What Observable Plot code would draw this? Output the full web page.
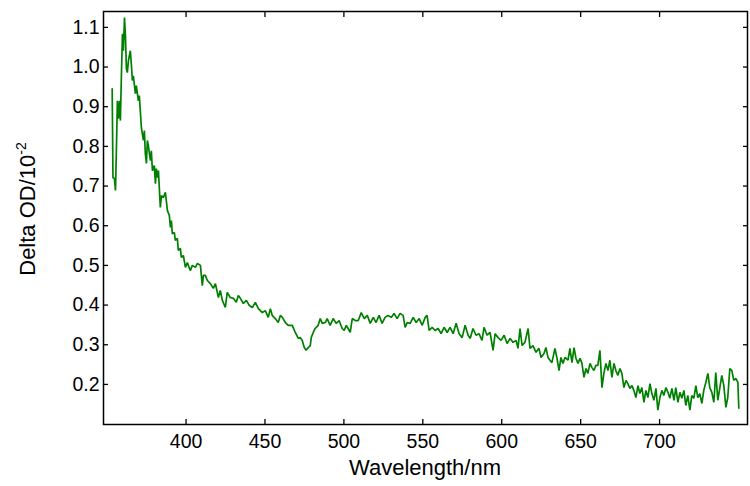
<!DOCTYPE html>
<html>
<head>
<meta charset="utf-8">
<script src="https://cdn.jsdelivr.net/npm/d3@7"></script>
<script src="https://cdn.jsdelivr.net/npm/@observablehq/plot@0.6"></script>
<style>
  html, body { margin: 0; padding: 0; background: #fff; }
  #chart { width: 750px; height: 486px; }
</style>
</head>
<body>
<div id="chart"></div>
<script>
const wavelength = [
353.2,353.7,354.6,355.3,355.9,356.5,357.1,357.8,358.4,359.0,359.7,360.3,361.0,361.6,362.2,362.8,363.5,364.7,365.4,366.0,366.6,367.9,368.5,369.8,370.4,371.7,373.0,373.6,374.2,374.9,375.5,376.1,377.4,378.0,378.7,379.9,380.6,381.2,381.8,382.5,383.7,384.4,385.6,386.9,388.2,389.4,390.1,390.7,391.3,392.6,393.2,394.5,395.1,396.4,397.0,398.3,399.6,400.8,402.7,404.0,405.9,
407.2,409.1,410.3,411.0,412.2,413.5,415.4,417.3,418.6,420.5,421.7,423.0,424.9,426.1,428.0,430.0,431.8,433.1,434.4,436.3,438.2,440.1,442.0,443.9,445.8,448.3,450.2,452.1,453.4,454.6,456.5,458.4,459.7,461.0,462.9,464.7,467.3,469.2,471.1,472.3,473.6,474.9,476.1,477.4,478.7,479.3,480.6,481.8,483.7,485.0,486.3,488.2,489.4,491.3,493.2,495.1,497.0,498.9,500.2,501.5,502.7,504.0,505.3,507.2,
509.1,511.0,512.9,514.8,516.7,518.6,520.4,522.3,524.2,526.1,528.0,530.0,531.8,533.7,535.6,537.5,538.8,540.1,542.0,543.9,545.8,547.7,549.6,551.5,552.7,554.0,555.9,557.8,559.7,561.6,563.5,565.4,567.3,569.2,571.1,573.0,574.9,576.8,578.7,580.0,581.8,583.7,585.6,587.5,588.8,590.7,592.6,594.5,595.8,597.7,599.6,601.5,603.4,605.3,607.2,609.1,610.3,611.6,612.9,614.7,616.7,617.9,619.8,621.7,623.6,624.9,626.8,628.0,629.3,
630.6,631.8,633.7,635.0,636.3,637.5,638.8,640.1,642.0,643.2,644.5,645.8,647.0,648.3,649.6,650.8,652.1,653.4,654.6,655.9,657.1,658.4,659.7,660.9,662.2,663.5,664.7,666.0,667.3,668.5,669.8,671.1,672.3,673.6,674.9,676.1,677.4,678.7,679.9,681.2,682.5,683.7,685.0,686.3,687.5,688.8,690.1,691.3,692.6,693.9,695.1,696.4,697.7,698.9,700.2,701.5,702.7,704.0,705.3,706.5,707.8,709.1,710.3,711.6,712.9,714.1,715.4,716.6,717.9,719.2,720.4,721.7,723.0,724.2,725.5,726.8,728.0,729.3,730.6,731.8,733.1,734.4,735.6,736.9,738.2,739.4,740.7,742.0,743.2,744.5,745.8,747.0,748.3,749.6,750.2
];
const deltaOD = [
0.945,0.721,0.719,0.689,0.797,0.915,0.870,0.915,0.865,0.971,1.084,1.041,1.125,1.079,0.996,0.986,1.016,1.041,1.004,0.966,0.978,0.933,0.953,0.915,0.928,0.847,0.815,0.840,0.782,0.757,0.815,0.802,0.764,0.789,0.739,0.752,0.706,0.744,0.721,0.739,0.646,0.676,0.671,0.684,0.638,0.626,0.596,0.613,0.580,0.583,0.563,0.568,0.538,0.543,0.520,0.525,0.495,0.507,0.487,0.500,0.495,
0.505,0.500,0.449,0.475,0.475,0.462,0.454,0.442,0.454,0.419,0.437,0.412,0.394,0.432,0.419,0.417,0.407,0.424,0.417,0.404,0.412,0.399,0.394,0.407,0.391,0.381,0.386,0.369,0.391,0.374,0.366,0.356,0.374,0.369,0.356,0.349,0.349,0.331,0.316,0.318,0.311,0.293,0.286,0.293,0.298,0.318,0.331,0.341,0.349,0.366,0.354,0.356,0.366,0.349,0.366,0.354,0.361,0.341,0.336,0.349,0.341,0.331,0.366,0.361,
0.361,0.381,0.366,0.374,0.354,0.369,0.356,0.374,0.354,0.369,0.374,0.369,0.379,0.366,0.379,0.374,0.344,0.356,0.354,0.369,0.356,0.366,0.349,0.369,0.374,0.336,0.344,0.336,0.341,0.328,0.344,0.331,0.344,0.328,0.354,0.328,0.318,0.349,0.324,0.316,0.341,0.324,0.328,0.311,0.344,0.324,0.331,0.286,0.328,0.318,0.311,0.324,0.303,0.316,0.306,0.311,0.291,0.341,0.298,0.306,0.341,0.291,0.298,0.281,0.291,0.268,0.278,0.293,0.268,
0.261,0.255,0.291,0.266,0.235,0.268,0.253,0.268,0.261,0.291,0.255,0.293,0.266,0.253,0.266,0.253,0.218,0.240,0.228,0.253,0.243,0.235,0.248,0.248,0.286,0.192,0.228,0.253,0.235,0.261,0.218,0.253,0.235,0.223,0.240,0.228,0.192,0.210,0.202,0.190,0.197,0.185,0.167,0.197,0.177,0.192,0.155,0.185,0.167,0.202,0.177,0.160,0.190,0.135,0.167,0.185,0.172,0.192,0.180,0.165,0.190,0.160,0.192,0.155,0.180,0.165,0.185,0.147,0.172,0.135,0.172,0.165,0.197,0.167,0.177,0.152,0.185,0.205,0.228,0.192,0.180,0.155,0.230,0.160,0.192,0.223,0.197,0.142,0.167,0.240,0.235,0.210,0.215,0.205,0.140
];
const xTicks = [400, 450, 500, 550, 600, 650, 700];
const yTicks = [0.2, 0.3, 0.4, 0.5, 0.6, 0.7, 0.8, 0.9, 1.0, 1.1];
const xLabel = "Wavelength/nm";
const yLabelMain = "Delta OD/10";
const yLabelSup = "-2";

const data = wavelength.map((w, i) => ({w, v: deltaOD[i]}));
const font = "'Liberation Sans', Arial, sans-serif";

const plot = Plot.plot({
  width: 750,
  height: 486,
  marginLeft: 103,
  marginRight: 3,
  marginTop: 11,
  marginBottom: 62,
  style: {fontFamily: font, background: "#fff", color: "#000"},
  x: {domain: [347.7, 755.7]},
  y: {domain: [0.099, 1.14]},
  marks: [
    Plot.line(data, {x: "w", y: "v", stroke: "#008000", strokeWidth: 1.7, strokeLinejoin: "miter"}),
    Plot.frame({stroke: "#000", strokeWidth: 1.5}),
    // tick labels
    Plot.axisX({anchor: "bottom", ticks: xTicks, tickSize: 0, tickPadding: 10, fontSize: 19.5, label: null, tickFormat: d3.format("d")}),
    Plot.axisY({anchor: "left", ticks: yTicks, tickSize: 0, tickPadding: 4, fontSize: 19.5, label: null, tickFormat: d3.format(".1f")}),
    // inward tick marks
    Plot.axisX({anchor: "bottom", ticks: xTicks, tickSize: -5, strokeWidth: 1.3, tickFormat: () => "", label: null}),
    Plot.axisX({anchor: "top", ticks: xTicks, tickSize: -5, strokeWidth: 1.3, tickFormat: () => "", label: null}),
    Plot.axisY({anchor: "left", ticks: yTicks, tickSize: -5, strokeWidth: 1.3, tickFormat: () => "", label: null}),
    Plot.axisY({anchor: "right", ticks: yTicks, tickSize: -5, strokeWidth: 1.3, tickFormat: () => "", label: null})
  ]
});

document.getElementById("chart").appendChild(plot);

const svg = d3.select(plot);
svg.append("text")
  .attr("x", 425).attr("y", 475)
  .attr("text-anchor", "middle")
  .attr("font-family", font).attr("font-size", 22).attr("fill", "#000")
  .text(xLabel);

const yl = svg.append("text")
  .attr("transform", "translate(35,209) rotate(-90)")
  .attr("text-anchor", "middle")
  .attr("font-family", font).attr("font-size", 22).attr("fill", "#000");
yl.append("tspan").text(yLabelMain);
yl.append("tspan").attr("dy", -9).attr("font-size", 14).text(yLabelSup);
</script>
</body>
</html>
